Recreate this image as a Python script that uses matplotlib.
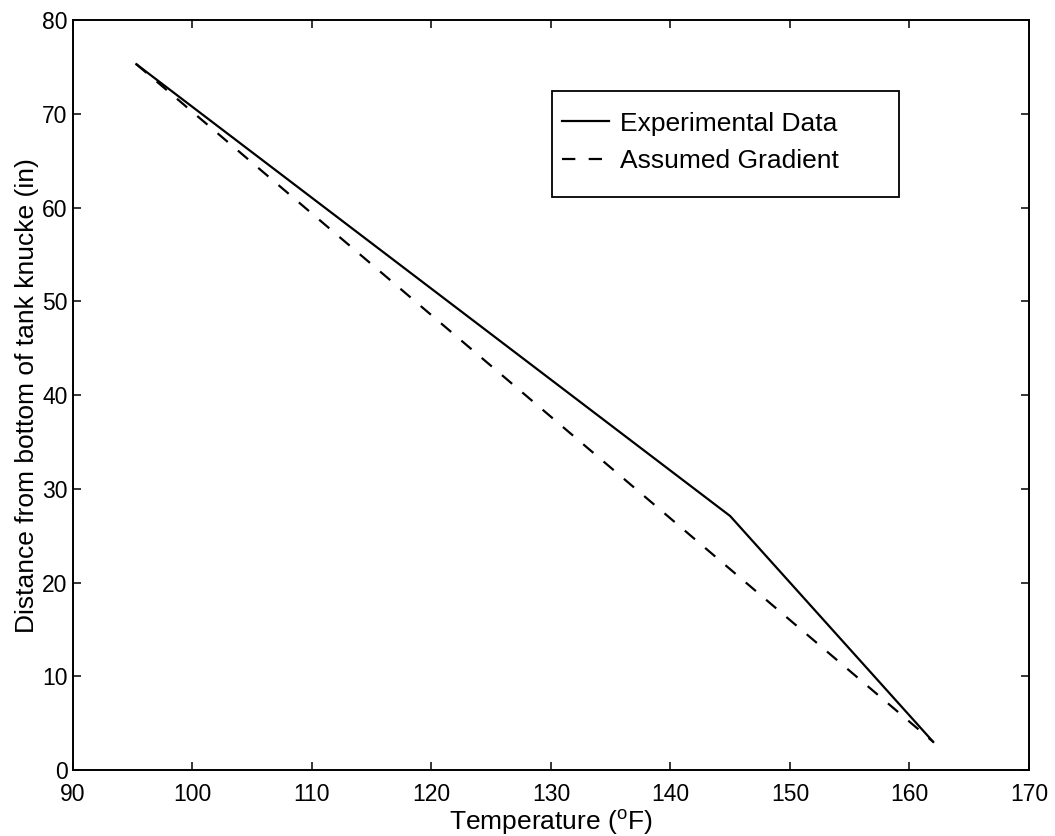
import matplotlib
matplotlib.use("Agg")
import matplotlib.pyplot as plt
from matplotlib.patches import Rectangle

plt.rcParams['font.family'] = ['Liberation Sans', 'DejaVu Sans']
plt.rcParams['mathtext.fontset'] = 'custom'
plt.rcParams['mathtext.rm'] = 'Liberation Sans'
plt.rcParams['mathtext.it'] = 'Liberation Sans:italic'

# measured temperature profile vs height
exp_temp = [95.3, 145.0, 162.0]
exp_dist = [75.3, 27.1, 3.0]

# linear gradient between top and bottom readings
grad_temp = [95.3, 162.0]
grad_dist = [75.3, 3.0]

xticks = list(range(90, 171, 10))
yticks = list(range(0, 81, 10))

fig = plt.figure(figsize=(10.55, 8.36), dpi=100)
ax = fig.add_axes([0.0692, 0.0789, 0.906, 0.897])

ax.plot(exp_temp, exp_dist, color='black', lw=1.6, label='Experimental Data')
ax.plot(grad_temp, grad_dist, color='black', lw=1.6, dashes=[6, 6],
        label='Assumed Gradient')

ax.set_xlim(90, 170)
ax.set_ylim(0, 80)
ax.set_xticks(xticks)
ax.set_yticks(yticks)
ax.tick_params(direction='in', length=6, width=1.1, top=True, right=True,
               labelsize=16.5, colors='black')
ax.tick_params(axis='x', pad=9)
ax.tick_params(axis='y', pad=4)
for sp in ax.spines.values():
    sp.set_linewidth(1.4)

ax.set_xlabel(r'Temperature ($^{\mathrm{o}}$F)', fontsize=19, labelpad=2)
ax.set_ylabel('Distance from bottom of tank knucke (in)', fontsize=19, labelpad=2)

# legend entries, with a separate box around them
leg = ax.legend(loc='upper left', bbox_to_anchor=(0.5115, 0.878), frameon=False,
                borderpad=0, borderaxespad=0, handlelength=1.8,
                handletextpad=0.42, labelspacing=0.5, fontsize=19)
ax.add_patch(Rectangle((0.501, 0.764), 0.363, 0.141, transform=ax.transAxes,
                       fill=False, lw=1.3, edgecolor='black', zorder=5))

fig.savefig('out.png', dpi=100)
